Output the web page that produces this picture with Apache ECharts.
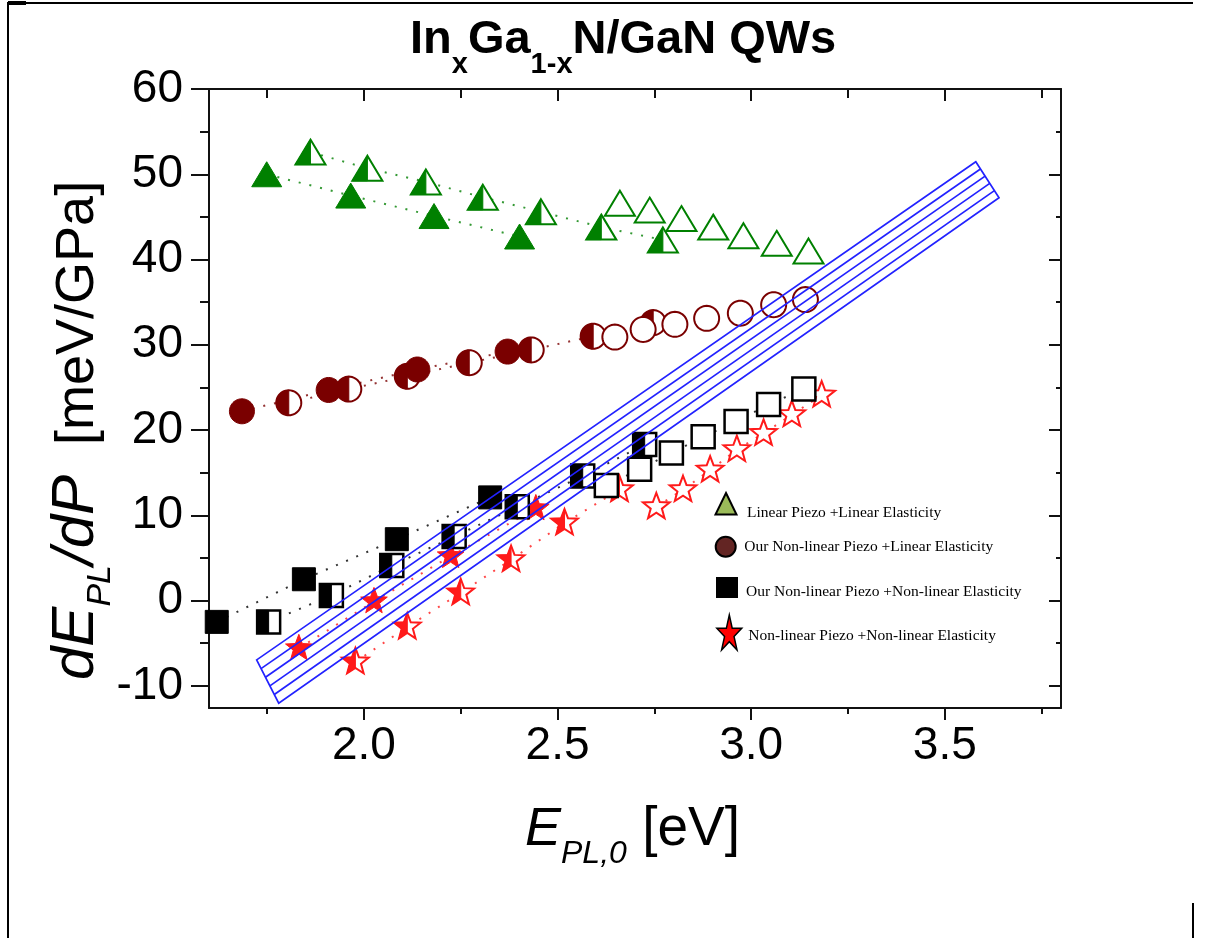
<!DOCTYPE html>
<html>
<head>
<meta charset="utf-8">
<script src="https://cdn.jsdelivr.net/npm/echarts@6/dist/echarts.min.js"></script>
<style>
  html, body { margin: 0; padding: 0; background: #fff; }
  #chart { width: 1206px; height: 938px; }
</style>
</head>
<body>
<div id="chart"></div>
<script>
// ---- axis extents and tick values ----
const xRange = [1.6, 3.8];
const yRange = [-12.6, 60];
const xMajorTicks = [2.0, 2.5, 3.0, 3.5];
const xMinorTicks = [1.75, 2.25, 2.75, 3.25, 3.75];
const yMajorTicks = [-10, 0, 10, 20, 30, 40, 50, 60];
const yMinorTicks = [-5, 5, 15, 25, 35, 45, 55];

// ---- Linear Piezo + Linear Elasticity (triangles) ----
const triFilled = [[1.749, 50.0], [1.966, 47.5], [2.181, 45.1], [2.402, 42.7]];
const triHalf = [[1.862, 52.6], [2.009, 50.7], [2.160, 49.1], [2.307, 47.3], [2.457, 45.6], [2.613, 43.8], [2.772, 42.3]];
const triOpen = [[2.661, 46.6], [2.738, 45.8], [2.820, 44.8], [2.902, 43.8], [2.980, 42.8], [3.066, 41.9], [3.148, 41.0]];

// ---- Our Non-linear Piezo + Linear Elasticity (circles) ----
const cirFilled = [[1.685, 22.2], [1.909, 24.7], [2.138, 27.1], [2.371, 29.2]];
const cirHalf = [[1.806, 23.2], [1.961, 24.8], [2.112, 26.3], [2.272, 27.9], [2.432, 29.4], [2.592, 31.0], [2.747, 32.6]];
const cirOpen = [[2.648, 30.9], [2.721, 31.8], [2.803, 32.4], [2.885, 33.1], [2.972, 33.7], [3.058, 34.7], [3.140, 35.3]];

// ---- Our Non-linear Piezo + Non-linear Elasticity (squares) ----
const sqFilled = [[1.620, -2.5], [1.845, 2.5], [2.085, 7.2], [2.326, 12.1]];
const sqHalf = [[1.754, -2.5], [1.916, 0.6], [2.072, 4.1], [2.233, 7.5], [2.396, 11.0], [2.565, 14.6], [2.725, 18.3]];
const sqOpen = [[2.626, 13.5], [2.712, 15.4], [2.794, 17.3], [2.876, 19.2], [2.961, 21.0], [3.045, 23.0], [3.136, 24.8]];

// ---- Non-linear Piezo + Non-linear Elasticity (stars) ----
const starFilled = [[1.832, -5.6], [2.026, -0.1], [2.224, 5.2], [2.444, 10.8]];
const starHalf = [[1.978, -7.2], [2.112, -3.1], [2.250, 0.9], [2.380, 4.8], [2.518, 9.1], [2.660, 13.0]];
const starOpen = [[2.755, 11.0], [2.824, 13.0], [2.894, 15.3], [2.963, 17.7], [3.032, 19.6], [3.105, 21.8], [3.182, 24.1]];

// ---- hatched band (corner points in data units) ----
const bandCorners = [[1.723, -6.96], [1.780, -12.04], [3.640, 47.24], [3.580, 51.47]];

const legendLabels = [
  'Linear Piezo +Linear Elasticity',
  'Our Non-linear Piezo +Linear Elasticity',
  'Our Non-linear Piezo +Non-linear Elasticity',
  'Non-linear Piezo +Non-linear Elasticity'
];

const GREEN = '#008000', MAROON = '#7a0000', BLACK = '#000000', RED = '#ff1a1a', BLUE = '#2222ff';
const SANS = '"Liberation Sans", Arial, sans-serif';
const SERIF = '"Liberation Serif", "Times New Roman", serif';

// ---- marker outlines (pixel offsets around the point) ----
function starPoints(R, ratio, sx, sy) {
  const pts = [];
  for (let i = 0; i < 10; i++) {
    const a = -Math.PI / 2 + i * Math.PI / 5;
    const rad = i % 2 ? R * ratio : R;
    pts.push([Math.cos(a) * rad * sx, Math.sin(a) * rad * sy]);
  }
  return pts;
}
function circlePoints(r) {
  const pts = [];
  for (let i = 0; i < 48; i++) {
    const a = i / 48 * Math.PI * 2;
    pts.push([Math.cos(a) * r, Math.sin(a) * r]);
  }
  return pts;
}
const SHAPES = {
  triangle: [[0, -12.5], [15, 12.5], [-15, 12.5]],
  circle: circlePoints(12.5),
  square: [[-11.5, -11.5], [11.5, -11.5], [11.5, 11.5], [-11.5, 11.5]],
  star: starPoints(14, 0.42, 1, 1)
};
// left half of a polygon (x <= 0)
function clipLeft(pts) {
  const out = [];
  for (let i = 0; i < pts.length; i++) {
    const a = pts[i], b = pts[(i + 1) % pts.length];
    const ain = a[0] <= 0, bin = b[0] <= 0;
    if (ain) out.push(a);
    if (ain !== bin) {
      const t = a[0] / (a[0] - b[0]);
      out.push([0, a[1] + t * (b[1] - a[1])]);
    }
  }
  return out;
}

function markerSeries(name, data, shape, mode, color, strokeW) {
  return {
    name, type: 'custom', coordinateSystem: 'cartesian2d',
    xAxisIndex: 0, yAxisIndex: 0, z: 3, silent: true,
    data,
    renderItem(params, api) {
      const c = api.coord([api.value(0), api.value(1)]);
      const base = SHAPES[shape];
      const move = p => p.map(q => [q[0] + c[0], q[1] + c[1]]);
      const children = [];
      if (mode === 'filled') {
        children.push({ type: 'polygon', shape: { points: move(base) }, style: { fill: color, stroke: color, lineWidth: 1 } });
      } else {
        children.push({ type: 'polygon', shape: { points: move(base) }, style: { fill: '#fff', stroke: color, lineWidth: strokeW } });
        if (mode === 'half') {
          children.push({ type: 'polygon', shape: { points: move(clipLeft(base)) }, style: { fill: color, stroke: color, lineWidth: 1 } });
        }
      }
      return { type: 'group', children };
    }
  };
}

function dottedSeries(data, color) {
  return {
    type: 'line', data, symbol: 'none', silent: true, z: 2,
    xAxisIndex: 0, yAxisIndex: 0,
    lineStyle: { color, width: 2, type: [2, 9], opacity: 0.8 }
  };
}

const bandSeries = {
  type: 'custom', coordinateSystem: 'cartesian2d', z: 5, silent: true,
  data: [bandCorners.flat()],
  renderItem(params, api) {
    const P = [0, 1, 2, 3].map(i => api.coord([api.value(2 * i), api.value(2 * i + 1)]));
    const style = { stroke: BLUE, lineWidth: 1.7, fill: null };
    const children = [{ type: 'polygon', shape: { points: P }, style }];
    const n = 5;
    for (let k = 1; k < n; k++) {
      const t = k / n;
      const s = [P[0][0] + (P[1][0] - P[0][0]) * t, P[0][1] + (P[1][1] - P[0][1]) * t];
      const e = [P[3][0] + (P[2][0] - P[3][0]) * t, P[3][1] + (P[2][1] - P[3][1]) * t];
      children.push({ type: 'line', shape: { x1: s[0], y1: s[1], x2: e[0], y2: e[1] }, style: { stroke: BLUE, lineWidth: 1.7 } });
    }
    return { type: 'group', children };
  }
};

// ---- text runs with subscript pieces ----
const mctx = document.createElement('canvas').getContext('2d');
function fontStr(s, family) {
  return (s.italic ? 'italic ' : '') + (s.bold ? 'bold ' : '') + s.size + 'px ' + (family || SANS);
}
function textRun(segs, family) {
  let x = 0;
  return segs.map(s => {
    const f = fontStr(s, family);
    mctx.font = f;
    const el = {
      type: 'text', x, y: (s.dy || 0) - 0.35 * s.size,
      style: { text: s.text, font: f, fill: '#000', align: 'left', textAlign: 'left', verticalAlign: 'middle', textVerticalAlign: 'middle' }
    };
    x += mctx.measureText(s.text).width;
    return el;
  });
}

const titleSegs = [
  { text: 'In', size: 47, bold: true },
  { text: 'x', size: 29, bold: true, dy: 18 },
  { text: 'Ga', size: 47, bold: true },
  { text: '1-x', size: 29, bold: true, dy: 18 },
  { text: 'N/GaN QWs', size: 47, bold: true }
];
const yNameSegs = [
  { text: 'dE', size: 60, italic: true },
  { text: 'PL', size: 34, italic: true, dy: 15 },
  { text: '/dP', size: 60, italic: true },
  { text: '  [meV/GPa]', size: 54 }
];
const xNameSegs = [
  { text: 'E', size: 54, italic: true },
  { text: 'PL,0', size: 32, italic: true, dy: 16 },
  { text: ' [eV]', size: 55 }
];

const axisLineStyle = { color: '#111', width: 2 };
function xAxisDef(position, ticks, len, inside, labels, line) {
  return {
    type: 'value', min: xRange[0], max: xRange[1], position, gridIndex: 0,
    splitLine: { show: false },
    axisLine: { show: line, onZero: false, lineStyle: axisLineStyle },
    axisTick: { show: true, inside, length: len, customValues: ticks, lineStyle: axisLineStyle },
    axisLabel: labels ? {
      show: true, customValues: ticks, formatter: v => v.toFixed(1),
      fontSize: 46, fontFamily: SANS, color: '#000', margin: 15
    } : { show: false }
  };
}
function yAxisDef(position, ticks, len, inside, labels, line) {
  return {
    type: 'value', min: yRange[0], max: yRange[1], position, gridIndex: 0,
    splitLine: { show: false },
    axisLine: { show: line, onZero: false, lineStyle: axisLineStyle },
    axisTick: { show: true, inside, length: len, customValues: ticks, lineStyle: axisLineStyle },
    axisLabel: labels ? {
      show: true, customValues: ticks, formatter: v => String(v),
      fontSize: 46, fontFamily: SANS, color: '#000', margin: 26
    } : { show: false }
  };
}

// legend glyphs drawn as graphics next to their labels
const legendGraphics = [
  { type: 'polygon', shape: { points: [[726, 493], [736.5, 514.5], [715.5, 514.5]] }, style: { fill: '#9bbb59', stroke: '#000', lineWidth: 2 } },
  { type: 'circle', shape: { cx: 725.7, cy: 546.7, r: 10 }, style: { fill: '#632523', stroke: '#000', lineWidth: 2 } },
  { type: 'rect', shape: { x: 716, y: 577, width: 22, height: 21 }, style: { fill: '#000' } },
  { type: 'polygon', shape: { points: starPoints(1, 0.382, 13.1, 19.3).map(p => [p[0] + 729.3, p[1] + 634.3]) }, style: { fill: '#ff0000', stroke: '#000', lineWidth: 1.5 } }
];
const legendTextPos = [[747, 513.3], [744.3, 546.7], [746, 591.7], [748.3, 636]];
legendLabels.forEach((t, i) => {
  legendGraphics.push({
    type: 'text', x: legendTextPos[i][0], y: legendTextPos[i][1],
    style: { text: t, font: '15.5px ' + SERIF, fill: '#000', align: 'left', textAlign: 'left', verticalAlign: 'middle', textVerticalAlign: 'middle' }
  });
});

// page border
const borderGraphics = [
  { type: 'line', shape: { x1: 8, y1: 3, x2: 1193, y2: 3 }, style: { stroke: '#000', lineWidth: 2 } },
  { type: 'line', shape: { x1: 8, y1: 3, x2: 26, y2: 3 }, style: { stroke: '#000', lineWidth: 4 } },
  { type: 'line', shape: { x1: 8, y1: 2, x2: 8, y2: 938 }, style: { stroke: '#000', lineWidth: 2 } },
  { type: 'line', shape: { x1: 1193, y1: 903, x2: 1193, y2: 938 }, style: { stroke: '#000', lineWidth: 2 } }
];

const chart = echarts.init(document.getElementById('chart'), null, { renderer: 'canvas' });
chart.setOption({
  backgroundColor: '#fff',
  animation: false,
  grid: { left: 209, right: 145, top: 89, bottom: 230, containLabel: false, outerBoundsMode: 'none' },
  xAxis: [
    xAxisDef('bottom', xMajorTicks, 12, false, true, true),
    xAxisDef('bottom', xMinorTicks, 6, false, false, false),
    xAxisDef('top', xMajorTicks, 12, true, false, true),
    xAxisDef('top', xMinorTicks, 9, true, false, false)
  ],
  yAxis: [
    yAxisDef('left', yMajorTicks, 18, false, true, true),
    yAxisDef('left', yMinorTicks, 9, false, false, false),
    yAxisDef('right', yMajorTicks, 12, true, false, true),
    yAxisDef('right', yMinorTicks, 5, true, false, false)
  ],
  series: [
    dottedSeries(triFilled, GREEN), dottedSeries(triHalf, GREEN),
    dottedSeries(cirFilled, MAROON), dottedSeries(cirHalf, MAROON),
    dottedSeries(sqFilled, BLACK), dottedSeries(sqHalf, BLACK), dottedSeries(sqOpen, BLACK),
    dottedSeries(starFilled, RED), dottedSeries(starHalf, RED), dottedSeries(starOpen, RED),
    markerSeries('triHalf', triHalf, 'triangle', 'half', GREEN, 2),
    markerSeries('triFilled', triFilled, 'triangle', 'filled', GREEN, 2),
    markerSeries('triOpen', triOpen, 'triangle', 'open', GREEN, 2),
    markerSeries('cirHalf', cirHalf, 'circle', 'half', MAROON, 2),
    markerSeries('cirFilled', cirFilled, 'circle', 'filled', MAROON, 2),
    markerSeries('cirOpen', cirOpen, 'circle', 'open', MAROON, 2),
    markerSeries('starHalf', starHalf, 'star', 'half', RED, 2),
    markerSeries('starFilled', starFilled, 'star', 'filled', RED, 2),
    markerSeries('starOpen', starOpen, 'star', 'open', RED, 2),
    markerSeries('sqHalf', sqHalf, 'square', 'half', BLACK, 2.5),
    markerSeries('sqFilled', sqFilled, 'square', 'filled', BLACK, 2.5),
    markerSeries('sqOpen', sqOpen, 'square', 'open', BLACK, 2.5),
    bandSeries
  ],
  graphic: [
    { type: 'group', x: 410, y: 56.7, children: textRun(titleSegs) },
    { type: 'group', x: 97, y: 680, rotation: Math.PI / 2, children: textRun(yNameSegs) },
    { type: 'group', x: 525, y: 849, children: textRun(xNameSegs) },
    ...legendGraphics,
    ...borderGraphics
  ]
});
</script>
</body>
</html>
